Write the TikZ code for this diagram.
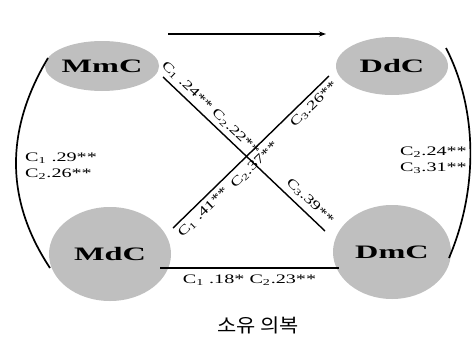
\documentclass[tikz,border=0pt]{standalone}
\usepackage{fontspec}
\setmainfont{Liberation Serif}
\newfontfamily\krfont{Noto Sans CJK KR}
\usepackage{graphicx}
\usetikzlibrary{positioning,shapes.geometric,arrows.meta}

\newcommand{\wide}[2][1.55]{\scalebox{#1}[1]{#2}}

\begin{document}
\begin{tikzpicture}[
  x=1pt, y=-1pt,
  every node/.style={font=\fontsize{13}{16}\selectfont, inner sep=2pt},
  blob/.style ={ellipse, fill=gray!50, inner sep=0pt,
                font=\fontsize{19}{22}\selectfont\bfseries},
  lab/.style  ={inner sep=1pt, align=left},
  link/.style ={line width=1.4pt},
  bow/.style  ={line width=1.7pt},
  arr/.style  ={-{Stealth[length=7pt,width=5pt]}, line width=1.2pt}
]
\useasboundingbox (0,0) rectangle (476,340);

%% ---- Clothing nodes ----------------------------------------------
\node[blob, minimum width=108, minimum height=50] (MmC) at (102,66) {\wide[1.7]{MmC}};
\node[blob, minimum width=112, minimum height=58] (DdC) at (392,66) {\wide[1.7]{DdC}};
\node[blob, minimum width=122, minimum height=94] (MdC) at (110,254) {\wide[1.7]{MdC}};
\node[blob, minimum width=118, minimum height=94] (DmC) at (392,252) {\wide[1.7]{DmC}};

%% ---- Connector ends ----------------------------------------------
\coordinate (topL) at (168,34);  \coordinate (topR) at (326,34);
\coordinate (aL)   at (163,77);  \coordinate (aR)   at (325,231);
\coordinate (bL)   at (173,228); \coordinate (bR)   at (329,76);
\coordinate (botL) at (160,268); \coordinate (botR) at (339,268);
\coordinate (lfT)  at (48,58);   \coordinate (lfB)  at (50,268);
\coordinate (rtT)  at (446,48);  \coordinate (rtB)  at (449,258);

%% ---- Top arrow ---------------------------------------------------
\draw[arr] (topL) -- (topR);

%% ---- Diagonals ---------------------------------------------------
\draw[link] (aL) --
  node[sloped, above=2pt, pos=0.25] {\wide[1.4]{C\textsubscript{1} .24** C\textsubscript{2}.22**}}
  node[sloped, above=3pt, pos=0.86] {\wide[1.4]{C\textsubscript{3}.39**}} (aR);
\draw[link] (bL) --
  node[sloped, below=2pt, pos=0.15] {\wide[1.4]{C\textsubscript{1} .41**}}
  node[sloped, below=4pt, pos=0.47] {\wide[1.4]{C\textsubscript{2}.37**}}
  node[sloped, below=2pt, pos=0.86] {\wide[1.4]{C\textsubscript{3}.26**}} (bR);

%% ---- Bottom link -------------------------------------------------
\draw[link] (botL) -- node[below=4pt] {\wide{C\textsubscript{1} .18* C\textsubscript{2}.23**}} (botR);

%% ---- Side bows ---------------------------------------------------
\draw[bow] (lfT) .. controls (5,130) and (5,200) .. (lfB);
\draw[bow] (rtT) .. controls (478,110) and (478,190) .. (rtB);
\node[lab, anchor=west] (leftlab) at (24,166)
  {\wide{C\textsubscript{1} .29**}\\\wide{C\textsubscript{2}.26**}};
\node[lab, anchor=west] (rightlab) at (399,160)
  {\wide{C\textsubscript{2}.24**}\\\wide{C\textsubscript{3}.31**}};

%% ---- Caption -----------------------------------------------------
\node (caption) at (258,325) {\krfont\fontsize{19}{22}\selectfont\wide[1.1]{소유 의복}};

\end{tikzpicture}
\end{document}
